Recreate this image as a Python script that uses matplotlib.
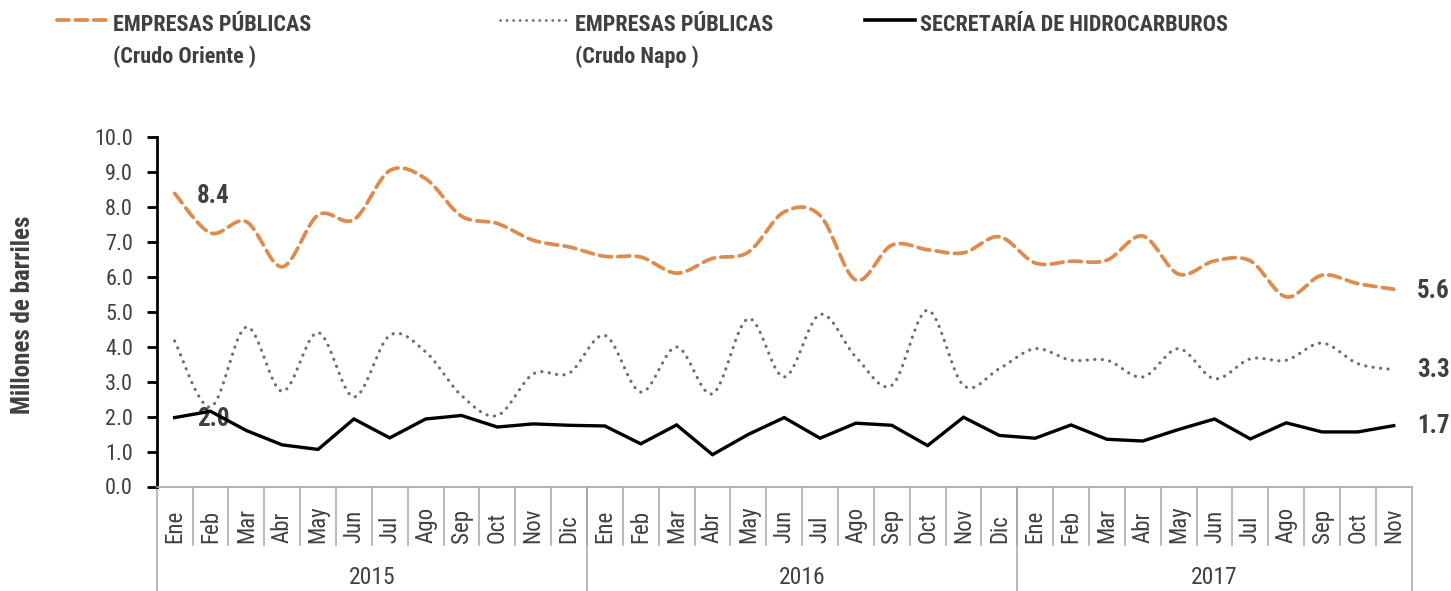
import numpy as np
import matplotlib
matplotlib.use("Agg")
import matplotlib.pyplot as plt
from matplotlib import font_manager
from matplotlib.lines import Line2D
import matplotlib.transforms as mtransforms

# ---------------- data ----------------
months = ["Ene", "Feb", "Mar", "Abr", "May", "Jun", "Jul", "Ago", "Sep", "Oct", "Nov", "Dic"]
month_labels = months + months + months[:11]
years = ["2015", "2016", "2017"]
year_sizes = [12, 12, 11]

oriente = [8.38, 7.25, 7.57, 6.28, 7.76, 7.63, 9.03, 8.80, 7.73, 7.52, 7.04, 6.85,
           6.58, 6.56, 6.10, 6.52, 6.70, 7.85, 7.75, 5.90, 6.90, 6.77, 6.68, 7.14,
           6.39, 6.44, 6.47, 7.16, 6.07, 6.45, 6.45, 5.42, 6.04, 5.80, 5.64]
napo = [4.16, 2.27, 4.56, 2.72, 4.40, 2.56, 4.32, 3.85, 2.60, 2.03, 3.22, 3.24,
        4.32, 2.70, 3.99, 2.65, 4.80, 3.13, 4.92, 3.70, 2.89, 5.04, 2.89, 3.37,
        3.94, 3.61, 3.61, 3.13, 3.94, 3.08, 3.65, 3.61, 4.10, 3.51, 3.34]
secretaria = [1.97, 2.15, 1.60, 1.19, 1.06, 1.93, 1.39, 1.93, 2.03, 1.70, 1.79, 1.75,
              1.73, 1.22, 1.76, 0.91, 1.49, 1.97, 1.38, 1.81, 1.75, 1.17, 1.98, 1.46,
              1.38, 1.76, 1.35, 1.30, 1.63, 1.93, 1.36, 1.82, 1.56, 1.56, 1.74]

series_names = ["EMPRESAS PÚBLICAS\n(Crudo Oriente )",
                "EMPRESAS PÚBLICAS\n(Crudo Napo )",
                "SECRETARÍA DE HIDROCARBUROS"]

# ---------------- fonts ----------------
avail = {f.name for f in font_manager.fontManager.ttflist}
narrow = None
for cand in ["Liberation Sans Narrow", "Arial Narrow", "Roboto Condensed", "Open Sans Condensed"]:
    if cand in avail:
        narrow = cand
        break
if narrow is None:
    narrow = "Liberation Sans"
    scale = 0.82
else:
    scale = 1.0
plt.rcParams['font.family'] = [narrow, 'DejaVu Sans']

TXT = "#404040"
ORANGE = "#DD8C4F"
GREY = "#6E6E70"

def smooth(y, n=20):
    """Catmull-Rom style smoothing (like Excel smoothed lines)."""
    y = np.asarray(y, float)
    x = np.arange(len(y), dtype=float)
    P = np.column_stack([x, y])
    P = np.vstack([P[0], P, P[-1]])
    out = []
    for i in range(1, len(P) - 2):
        p0, p1, p2, p3 = P[i - 1], P[i], P[i + 1], P[i + 2]
        c1 = p1 + (p2 - p0) / 6.0
        c2 = p2 - (p3 - p1) / 6.0
        t = np.linspace(0, 1, n, endpoint=(i == len(P) - 3))[:, None]
        seg = ((1 - t) ** 3) * p1 + 3 * ((1 - t) ** 2) * t * c1 + 3 * (1 - t) * t ** 2 * c2 + t ** 3 * p2
        out.append(seg)
    out = np.vstack(out)
    return out[:, 0], out[:, 1]

W, H = 1451, 591
fig = plt.figure(figsize=(W / 100, H / 100), dpi=100)
left, right, top, bottom = 156.7, 1411.7, 136.7, 486.5
ax = fig.add_axes([left / W, 1 - bottom / H, (right - left) / W, (bottom - top) / H])

n = len(month_labels)
x = np.arange(n)

xs, ys = smooth(oriente)
ax.plot(xs, ys, color=ORANGE, lw=2.7, linestyle=(0, (3.2, 1.7)), dash_capstyle='round', zorder=3)
xs, ys = smooth(napo)
ax.plot(xs, ys, color=GREY, lw=2.3, linestyle=(0, (0.05, 2.3)), dash_capstyle='round', zorder=3)
ax.plot(x, secretaria, color="black", lw=2.4, solid_joinstyle='miter', zorder=4)

ax.set_xlim(-0.5, n - 0.5)
ax.set_ylim(0, 10)
ax.set_yticks(np.arange(0, 11, 1))
ax.set_yticklabels([f"{v:.1f}" for v in np.arange(0, 11, 1)], fontsize=16 * scale, color=TXT)
ax.tick_params(axis='y', direction='out', length=7, width=2, color='black', pad=10)
ax.set_xticks([])
for s in ["top", "right"]:
    ax.spines[s].set_visible(False)
ax.spines["left"].set_linewidth(2)
ax.spines["left"].set_color("black")
ax.spines["bottom"].set_linewidth(1.2)
ax.spines["bottom"].set_color("#A6A6A6")

def fy(py):
    return 1 - py / H

fig.text(23 / W, fy(315), "Millones de barriles", fontsize=18 * scale, fontweight='bold', color=TXT,
         rotation=90, ha='center', va='center')

# category axis: month labels, separators, years
trans = mtransforms.blended_transform_factory(ax.transData, fig.transFigure)
for i, lab in enumerate(month_labels):
    fig.text(0, 0, lab, transform=trans, fontsize=16.5 * scale, color=TXT, rotation=90,
             ha='center', va='bottom').set_position((x[i], fy(543)))
for i in range(1, n):
    ax.plot([i - 0.5, i - 0.5], [fy(486.5), fy(545)], transform=trans, color="#A6A6A6", lw=1.1, clip_on=False)
start = 0
bounds = [-0.5]
for yl, sz in zip(years, year_sizes):
    end = start + sz
    bounds.append(end - 0.5)
    fig.text(0, 0, yl, transform=trans, fontsize=17 * scale, color=TXT, ha='center', va='center'
             ).set_position(((start + end - 1) / 2, fy(577)))
    start = end
for b in bounds:
    ax.plot([b, b], [fy(486.5), fy(591)], transform=trans, color="#A6A6A6", lw=1.1, clip_on=False)

# data labels
lab_kw = dict(fontsize=18 * scale, fontweight='bold', color=TXT, va='center')
ax.annotate(f"{oriente[0]:.1f}", (x[0], oriente[0]), xytext=(22, -3), textcoords='offset pixels', ha='left', **lab_kw)
ax.annotate(f"{secretaria[0]:.1f}", (x[0], secretaria[0]), xytext=(22, -1), textcoords='offset pixels', ha='left', **lab_kw)
ax.annotate(f"{oriente[-1]:.1f}", (x[-1], oriente[-1]), xytext=(23, -2), textcoords='offset pixels', ha='left', **lab_kw)
ax.annotate(f"{napo[-1]:.1f}", (x[-1], napo[-1]), xytext=(23, 0), textcoords='offset pixels', ha='left', **lab_kw)
ax.annotate(f"{secretaria[-1]:.1f}", (x[-1], secretaria[-1]), xytext=(23, 0), textcoords='offset pixels', ha='left', **lab_kw)

# legend (manual)
leg_specs = [
    (57, 108, 113, dict(color=ORANGE, lw=2.7, linestyle=(0, (3.2, 1.7)), dash_capstyle='round')),
    (500, 569, 575, dict(color=GREY, lw=2.0, linestyle=(0, (0.05, 2.3)), dash_capstyle='round')),
    (865, 915, 920, dict(color="black", lw=2.6)),
]
for (x0, x1, xt, kw), name in zip(leg_specs, series_names):
    fig.add_artist(Line2D([x0 / W, x1 / W], [fy(20), fy(20)], transform=fig.transFigure, **kw))
    fig.text(xt / W, fy(14), name, fontsize=16 * scale, fontweight='bold', color=TXT,
             ha='left', va='top', linespacing=1.55)

fig.savefig("out.png", dpi=100)
